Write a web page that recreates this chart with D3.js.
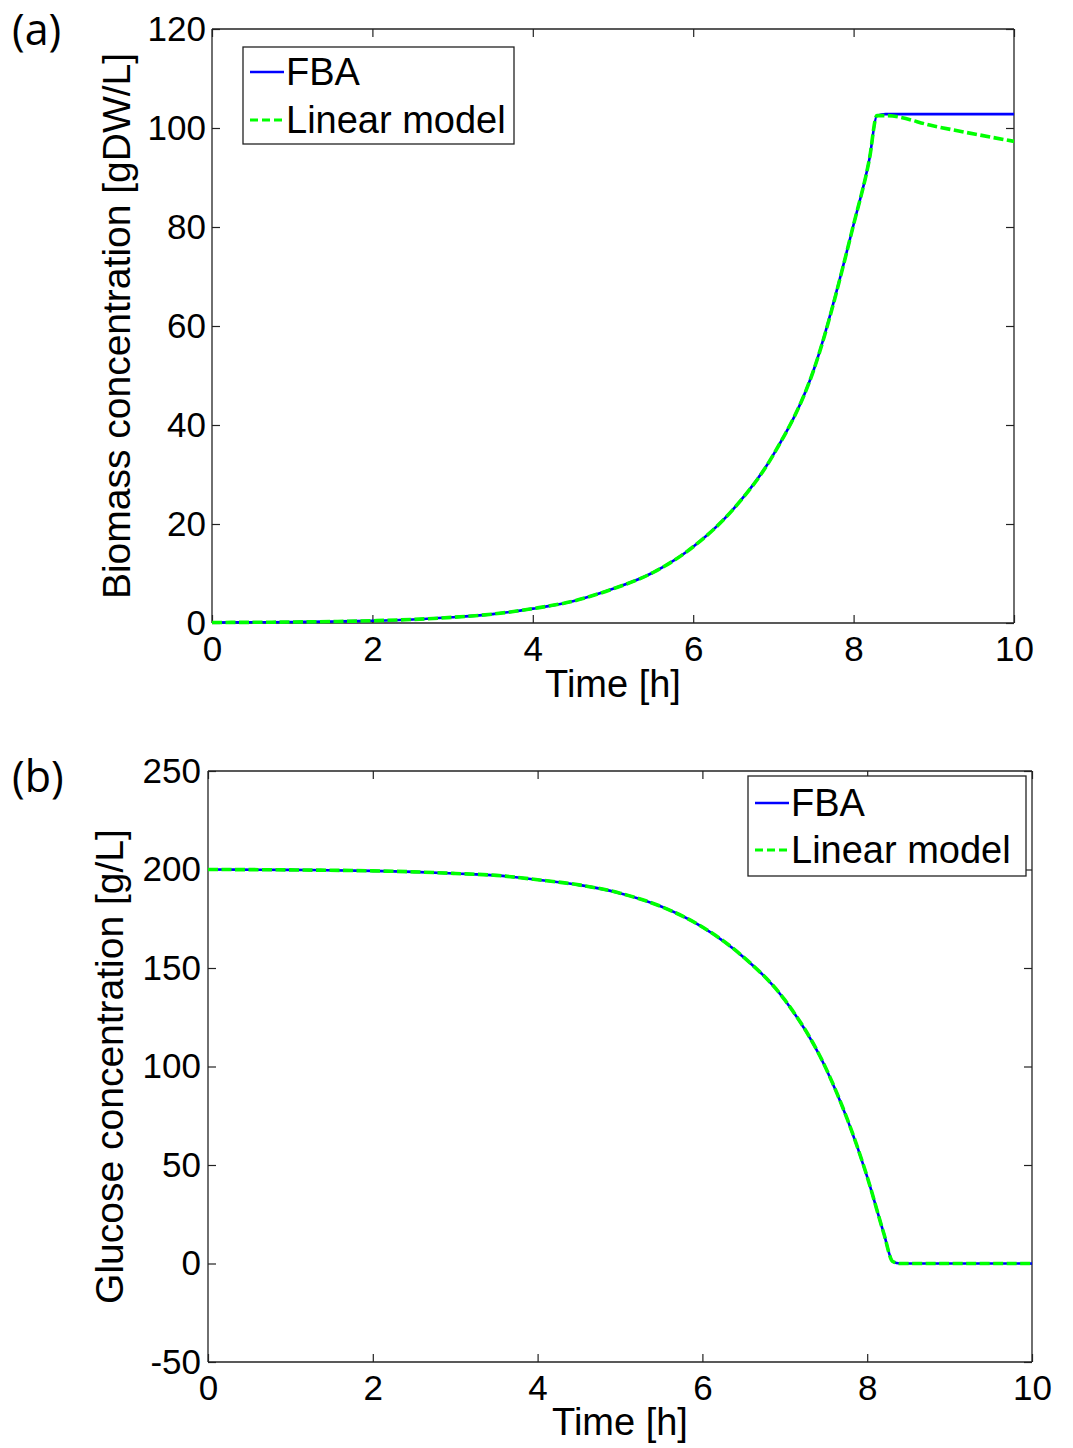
<!DOCTYPE html>
<html>
<head>
<meta charset="utf-8">
<script src="https://cdn.jsdelivr.net/npm/d3@7"></script>
<style>
  html, body { margin: 0; padding: 0; background: #fff; }
  svg { display: block; }
  text { font-family: "Liberation Sans", Arial, sans-serif; fill: #000; }
</style>
</head>
<body>
<svg id="chart" width="1073" height="1448"></svg>
<script>
// ---------- Data ----------
const timeTicks = [0, 2, 4, 6, 8, 10];
const biomassTicks = [0, 20, 40, 60, 80, 100, 120];
const glucoseTicks = [-50, 0, 50, 100, 150, 200, 250];

const biomassTimeFBA = [0, 0.5, 1, 1.5, 2, 2.5, 3, 3.5, 4, 4.5, 5, 5.5, 6, 6.5, 7, 7.5, 8, 8.2, 8.29, 8.4, 9, 10];
const biomassFBA     = [0.1, 0.14, 0.2, 0.3, 0.46, 0.72, 1.15, 1.8, 2.9, 4.4, 6.9, 10.2, 15.4, 23, 34, 51, 80.5, 94, 102.5, 102.8, 102.8, 102.8];

const biomassTimeLin = [0, 0.5, 1, 1.5, 2, 2.5, 3, 3.5, 4, 4.5, 5, 5.5, 6, 6.5, 7, 7.5, 8, 8.2, 8.29, 8.4, 9, 10];
const biomassLin     = [0.1, 0.14, 0.2, 0.3, 0.46, 0.72, 1.15, 1.8, 2.9, 4.4, 6.9, 10.2, 15.4, 23, 34, 51, 80.5, 94, 102.5, 102.5, 100.4, 97.3];

const glucoseTime = [0, 1, 2, 2.5, 3, 3.5, 4, 4.5, 5, 5.5, 6, 6.5, 7, 7.5, 8, 8.2, 8.31, 8.4, 9, 10];
const glucoseFBA  = [200, 199.8, 199.3, 198.8, 198, 197, 194.8, 192.2, 188, 181.2, 170.8, 155.5, 133.8, 99, 44, 15.5, 1, 0, 0, 0];
const glucoseLin  = [200, 199.8, 199.3, 198.8, 198, 197, 194.8, 192.2, 188, 181.2, 170.8, 155.5, 133.8, 99, 44, 15.5, 1, 0, 0, 0];

const seriesNames = ["FBA", "Linear model"];

// ---------- Drawing ----------
const svg = d3.select("#chart");
svg.append("rect").attr("width", 1073).attr("height", 1448).attr("fill", "#fff");

const BLUE = "#0000ff";
const GREEN = "#00ff00";
const fmt = d => String(d); // plain hyphen-minus like the reference

function drawPanel(cfg) {
  const x = d3.scaleLinear().domain([0, 10]).range([cfg.left, cfg.right]);
  const y = d3.scaleLinear().domain(cfg.yDomain).range([cfg.bottom, cfg.top]);
  const g = svg.append("g");

  const tickLen = 8;
  const axB = d3.axisBottom(x).tickValues(timeTicks).tickSize(-tickLen).tickPadding(13).tickFormat(fmt);
  const axT = d3.axisTop(x).tickValues(timeTicks).tickSize(-tickLen).tickFormat("");
  const axL = d3.axisLeft(y).tickValues(cfg.yTicks).tickSize(-tickLen).tickPadding(cfg.yPad).tickFormat(fmt);
  const axR = d3.axisRight(y).tickValues(cfg.yTicks).tickSize(-tickLen).tickFormat("");

  const gb = g.append("g").attr("transform", `translate(0,${cfg.bottom})`).call(axB);
  const gt = g.append("g").attr("transform", `translate(0,${cfg.top})`).call(axT);
  const gl = g.append("g").attr("transform", `translate(${cfg.left},0)`).call(axL);
  const gr = g.append("g").attr("transform", `translate(${cfg.right},0)`).call(axR);
  [gb, gt, gl, gr].forEach(a => {
    a.select(".domain").attr("stroke", "#222").attr("stroke-width", 1.3);
    a.selectAll(".tick line").attr("stroke", "#222").attr("stroke-width", 1.2);
    a.selectAll(".tick text").attr("font-size", 35).attr("fill", "#000")
      .style("font-family", '"Liberation Sans", Arial, sans-serif');
  });
  gl.selectAll(".domain").attr("d", `M0,${cfg.bottom}V${cfg.top}`);
  gr.selectAll(".domain").attr("d", `M0,${cfg.bottom}V${cfg.top}`);
  gb.selectAll(".domain").attr("d", `M${cfg.left},0H${cfg.right}`);
  gt.selectAll(".domain").attr("d", `M${cfg.left},0H${cfg.right}`);
  gb.selectAll(".tick text").attr("dy", "0.71em");

  // lines
  const mk = (ts, vs) => ts.map((t, i) => [t, vs[i]]);
  const line = d3.line().x(d => x(d[0])).y(d => y(d[1])).curve(d3.curveMonotoneX);
  g.append("path").attr("d", line(mk(cfg.t1, cfg.v1)))
    .attr("fill", "none").attr("stroke", BLUE).attr("stroke-width", 2.6);
  g.append("path").attr("d", line(mk(cfg.t2, cfg.v2)))
    .attr("fill", "none").attr("stroke", GREEN).attr("stroke-width", 3.6)
    .attr("stroke-dasharray", "10,3.5");

  // axis labels
  g.append("text").attr("x", (cfg.left + cfg.right) / 2).attr("y", cfg.xLabelY)
    .attr("text-anchor", "middle").attr("font-size", 38).text("Time [h]");
  g.append("text").attr("transform", `translate(${cfg.yLabelX},${(cfg.top + cfg.bottom) / 2}) rotate(-90)`)
    .attr("text-anchor", "middle").attr("font-size", 39).text(cfg.yLabel);

  // panel letter
  g.append("text").attr("x", cfg.letterX).attr("y", cfg.letterY)
    .style("font-family", '"Open Sans", sans-serif').attr("font-size", 43).text(cfg.letter);

  // legend
  const L = cfg.legend;
  g.append("rect").attr("x", L.x).attr("y", L.y).attr("width", L.w).attr("height", L.h)
    .attr("fill", "#fff").attr("stroke", "#222").attr("stroke-width", 1.3);
  const rows = [
    { name: seriesNames[0], color: BLUE, dash: null, sw: 2.6 },
    { name: seriesNames[1], color: GREEN, dash: "8,4", sw: 3 }
  ];
  rows.forEach((r, i) => {
    const cy = L.y + L.row0 + i * L.rowGap;
    g.append("line").attr("x1", L.x + 7).attr("x2", L.x + 41).attr("y1", cy).attr("y2", cy)
      .attr("stroke", r.color).attr("stroke-width", r.sw).attr("stroke-dasharray", r.dash);
    g.append("text").attr("x", L.x + 43).attr("y", cy + 13).attr("font-size", 38).text(r.name);
  });
}

drawPanel({
  left: 212, right: 1014, top: 29, bottom: 623,
  yDomain: [0, 120], yTicks: biomassTicks, yPad: 6,
  t1: biomassTimeFBA, v1: biomassFBA, t2: biomassTimeLin, v2: biomassLin,
  xLabelY: 697, yLabelX: 130, yLabel: "Biomass concentration [gDW/L]",
  letter: "(a)", letterX: 12, letterY: 45,
  legend: { x: 243, y: 47, w: 271, h: 97, row0: 25, rowGap: 48 }
});

drawPanel({
  left: 208, right: 1032, top: 771, bottom: 1362,
  yDomain: [-50, 250], yTicks: glucoseTicks, yPad: 7,
  t1: glucoseTime, v1: glucoseFBA, t2: glucoseTime, v2: glucoseLin,
  xLabelY: 1435, yLabelX: 123, yLabel: "Glucose concentration [g/L]",
  letter: "(b)", letterX: 12, letterY: 792,
  legend: { x: 748, y: 776, w: 278, h: 100, row0: 27, rowGap: 47 }
});
</script>
</body>
</html>
